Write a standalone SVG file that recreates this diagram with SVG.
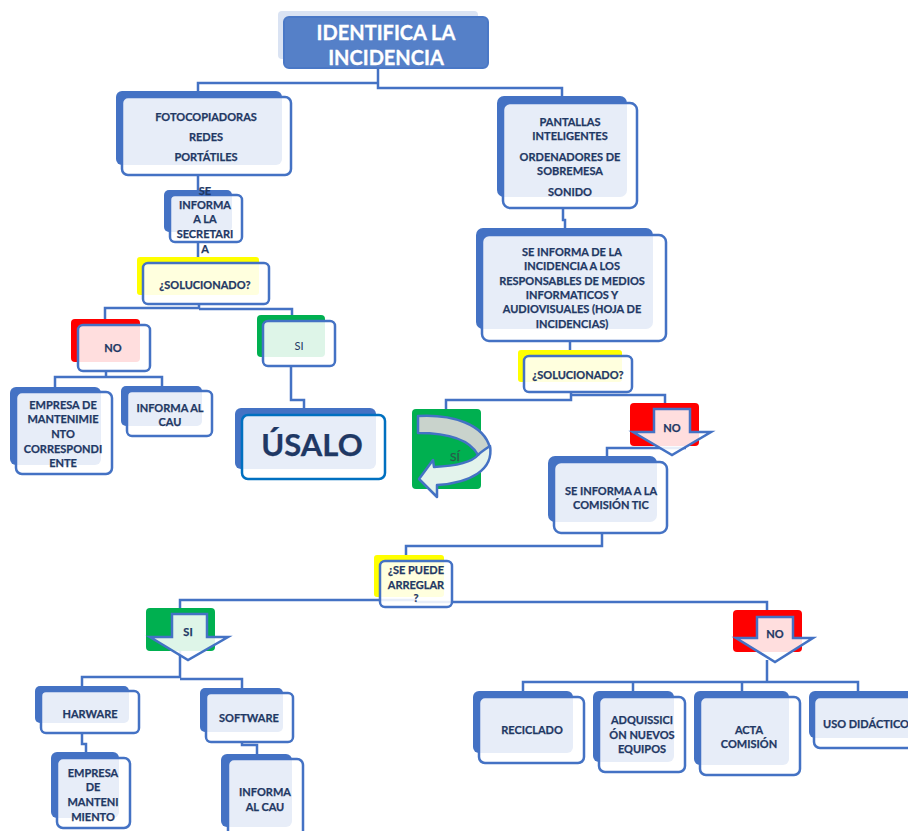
<svg xmlns="http://www.w3.org/2000/svg" width="908" height="831" viewBox="0 0 908 831">
<style>
.bk{fill:#4472c4}
.ye{fill:#ffff00}
.rd{fill:#ff0000}
.gr{fill:#00b050}
.fr{fill:#fff;fill-opacity:.87;stroke:#4472c4;stroke-width:2.5}
.c{fill:none;stroke:#4472c4;stroke-width:2.5}
.t{font-family:Lato,"Liberation Sans",sans-serif;font-weight:700;font-size:11px;fill:#1f3864;stroke:#1f3864;stroke-width:.25;text-anchor:middle;dominant-baseline:central}
.n{font-weight:400;stroke-width:0}
.h{font-size:20px;fill:#fff;stroke:#fff;stroke-width:.3}
</style>
<rect width="908" height="831" fill="#fff"/>
<g id="connectors">
<path class="c" d="M378,68 V88 H562 V97 M378,83 H198 V91"/>
<path class="c" d="M198,175 V195 M198,242 V263"/>
<path class="c" d="M199,304 V308 H105 V325 M199,309 H292 V321"/>
<path class="c" d="M106,371 V377 H55 V392 M106,377 H162 V391"/>
<path class="c" d="M291,366 V400 H304 V415"/>
<path class="c" d="M563,208 V220 H565 V235"/>
<path class="c" d="M570,341 V356"/>
<path class="c" d="M571,392 V400 H446 V409 M571,395 H665 V403"/>
<path class="c" d="M686,448 H607 V462"/>
<path class="c" d="M602,533 V546 H406 V561"/>
<path class="c" d="M416,600 H180 V608 M416,602 H767 V610"/>
<path class="c" d="M180,651 V677 H82 V686 M180,679 H242 V688"/>
<path class="c" d="M82,733 V744 H86 V752"/>
<path class="c" d="M242,742 V745 H257 V754"/>
<path class="c" d="M767,660 V682 H523 V691 M767,682 H858 V691 M633,682 V691 M742,682 V691"/>
</g>
<g id="identifica">
<rect x="278" y="11" width="200" height="48" rx="4" fill="#dae3f3"/>
<rect x="284" y="17" width="204" height="51" rx="5" fill="#5580c8" stroke="#4a78c6" stroke-width="2"/>
<text class="t h" x="386" y="32">IDENTIFICA LA</text>
<text class="t h" x="386" y="57">INCIDENCIA</text>
</g>
<g id="fotocopiadoras">
<rect class="bk" x="116" y="91" width="166" height="74" rx="6"/>
<rect class="fr" x="122" y="97" width="169" height="78" rx="6"/>
<text class="t" x="206" y="116">FOTOCOPIADORAS</text>
<text class="t" x="206" y="136">REDES</text>
<text class="t" x="206" y="156">PORTÁTILES</text>
</g>
<g id="secretaria">
<rect class="bk" x="164" y="190" width="68" height="42" rx="5"/>
<rect class="fr" x="170" y="195" width="72" height="47" rx="5"/>
<text class="t" x="205" y="190">SE</text>
<text class="t" x="205" y="204">INFORMA</text>
<text class="t" x="205" y="218">A LA</text>
<text class="t" x="205" y="233">SECRETARI</text>
<text class="t" x="205" y="248">A</text>
</g>
<g id="solucionado1">
<rect class="ye" x="137" y="257" width="122" height="38" rx="3"/>
<rect class="fr" x="143" y="263" width="126" height="41" rx="5"/>
<text class="t" x="205" y="284">¿SOLUCIONADO?</text>
</g>
<g id="no1">
<rect class="rd" x="71" y="319" width="69" height="43" rx="4"/>
<rect class="fr" x="78" y="325" width="72" height="46" rx="5"/>
<text class="t" x="113" y="347">NO</text>
</g>
<g id="si1">
<rect class="gr" x="257" y="315" width="68" height="42" rx="4"/>
<rect class="fr" x="263" y="321" width="72" height="45" rx="5"/>
<text class="t n" x="299" y="345">SI</text>
</g>
<g id="empresa1">
<rect class="bk" x="10" y="387" width="91" height="78" rx="6"/>
<rect class="fr" x="16" y="392" width="96" height="82" rx="6"/>
<text class="t" x="63" y="404">EMPRESA DE</text>
<text class="t" x="63" y="418">MANTENIMIE</text>
<text class="t" x="63" y="433">NTO</text>
<text class="t" x="63" y="448">CORRESPONDI</text>
<text class="t" x="63" y="462">ENTE</text>
</g>
<g id="cau1">
<rect class="bk" x="121" y="386" width="81" height="40" rx="5"/>
<rect class="fr" x="127" y="391" width="85" height="45" rx="5"/>
<text class="t" x="170" y="407">INFORMA AL</text>
<text class="t" x="170" y="421">CAU</text>
</g>
<g id="usalo">
<rect class="bk" x="235" y="408" width="141" height="61" rx="6"/>
<rect x="242" y="415" width="143" height="64" rx="6" fill="#fff" fill-opacity=".87" stroke="#0070c0" stroke-width="2.5"/>
<text class="t" x="312" y="444" style="font-size:31px">ÚSALO</text>
</g>
<g id="pantallas">
<rect class="bk" x="497" y="96" width="130" height="101" rx="7"/>
<rect class="fr" x="503" y="103" width="134" height="105" rx="7"/>
<text class="t" x="570" y="121">PANTALLAS</text>
<text class="t" x="570" y="135">INTELIGENTES</text>
<text class="t" x="570" y="156">ORDENADORES DE</text>
<text class="t" x="570" y="170">SOBREMESA</text>
<text class="t" x="570" y="191">SONIDO</text>
</g>
<g id="responsables">
<rect class="bk" x="476" y="228" width="177" height="101" rx="7"/>
<rect class="fr" x="482" y="235" width="184" height="106" rx="7"/>
<text class="t" x="572" y="251">SE INFORMA DE LA</text>
<text class="t" x="572" y="265">INCIDENCIA A LOS</text>
<text class="t" x="572" y="280">RESPONSABLES DE MEDIOS</text>
<text class="t" x="572" y="294">INFORMATICOS Y</text>
<text class="t" x="572" y="308">AUDIOVISUALES (HOJA DE</text>
<text class="t" x="572" y="323">INCIDENCIAS)</text>
</g>
<g id="solucionado2">
<rect class="ye" x="518" y="350" width="104" height="32" rx="3"/>
<rect class="fr" x="524" y="356" width="108" height="36" rx="5"/>
<text class="t" x="578" y="374">¿SOLUCIONADO?</text>
</g>
<g id="si2">
<rect class="gr" x="412" y="409" width="69" height="80" rx="4"/>
<path d="M418,416 C452,414 484,424 490,448 C488,456 482,458 478,455 C470,440 450,433 418,433 Z" fill="#c9d3cc" stroke="#4472c4" stroke-width="2.5" stroke-linejoin="round"/>
<path d="M490,446 C494,470 470,483 437,485 L437,497 L419,479 L433,460 L434,467 C455,466 472,462 478,455 C482,451 487,448 490,446 Z" fill="#e3f3ec" stroke="#4472c4" stroke-width="2.5" stroke-linejoin="round"/>
<text class="t" x="455" y="456" style="fill:#2a5a4c;stroke:#2a5a4c;font-size:12px;font-weight:400">SÍ</text>
</g>
<g id="no2">
<rect class="rd" x="630" y="403" width="69" height="43" rx="4"/>
<path class="fr" d="M654,409 H690 V432 H711 L672,455 L633,432 H654 Z"/>
<text class="t" x="672" y="427">NO</text>
</g>
<g id="comision">
<rect class="bk" x="548" y="456" width="109" height="66" rx="7"/>
<rect class="fr" x="554" y="462" width="113" height="71" rx="7"/>
<text class="t" x="611" y="490">SE INFORMA A LA</text>
<text class="t" x="611" y="504">COMISIÓN TIC</text>
</g>
<g id="arreglar">
<rect class="ye" x="374" y="555" width="70" height="42" rx="3"/>
<rect class="fr" x="380" y="561" width="72" height="46" rx="5"/>
<text class="t" x="416" y="569">¿SE PUEDE</text>
<text class="t" x="416" y="584">ARREGLAR</text>
<text class="t" x="416" y="597">?</text>
</g>
<g id="si3">
<rect class="gr" x="146" y="608" width="69" height="43" rx="4"/>
<path class="fr" d="M172,614 H207 V637 H228 L188,660 L150,637 H172 Z"/>
<text class="t" x="188" y="631">SI</text>
</g>
<g id="no3">
<rect class="rd" x="733" y="610" width="69" height="42" rx="4"/>
<path class="fr" d="M757,617 H793 V638 H813 L775,662 L736,638 H757 Z"/>
<text class="t" x="775" y="633">NO</text>
</g>
<g id="harware">
<rect class="bk" x="35" y="686" width="94" height="37" rx="5"/>
<rect class="fr" x="41" y="691" width="98" height="42" rx="5"/>
<text class="t" x="90" y="713">HARWARE</text>
</g>
<g id="empresa2">
<rect class="bk" x="51" y="752" width="68" height="66" rx="6"/>
<rect class="fr" x="57" y="758" width="73" height="70" rx="6"/>
<text class="t" x="93" y="772">EMPRESA</text>
<text class="t" x="93" y="786">DE</text>
<text class="t" x="93" y="801">MANTENI</text>
<text class="t" x="93" y="816">MIENTO</text>
</g>
<g id="software">
<rect class="bk" x="200" y="688" width="83" height="44" rx="5"/>
<rect class="fr" x="206" y="693" width="87" height="49" rx="5"/>
<text class="t" x="249" y="717">SOFTWARE</text>
</g>
<g id="cau2">
<rect class="bk" x="221" y="754" width="71" height="73" rx="6"/>
<rect class="fr" x="228" y="759" width="75" height="80" rx="6"/>
<text class="t" x="265" y="791">INFORMA</text>
<text class="t" x="265" y="806">AL CAU</text>
</g>
<g id="reciclado">
<rect class="bk" x="473" y="691" width="100" height="62" rx="6"/>
<rect class="fr" x="479" y="697" width="105" height="66" rx="6"/>
<text class="t" x="532" y="729">RECICLADO</text>
</g>
<g id="adquisicion">
<rect class="bk" x="593" y="691" width="81" height="71" rx="6"/>
<rect class="fr" x="599" y="697" width="86" height="75" rx="6"/>
<text class="t" x="642" y="719">ADQUISSICI</text>
<text class="t" x="642" y="734">ÓN NUEVOS</text>
<text class="t" x="642" y="748">EQUIPOS</text>
</g>
<g id="acta">
<rect class="bk" x="694" y="691" width="95" height="74" rx="6"/>
<rect class="fr" x="700" y="697" width="100" height="78" rx="6"/>
<text class="t" x="749" y="729">ACTA</text>
<text class="t" x="749" y="743">COMISIÓN</text>
</g>
<g id="uso">
<rect class="bk" x="809" y="691" width="110" height="47" rx="6"/>
<rect class="fr" x="814" y="697" width="110" height="51" rx="6"/>
<text class="t" x="866" y="723">USO DIDÁCTICO</text>
</g>
</svg>
